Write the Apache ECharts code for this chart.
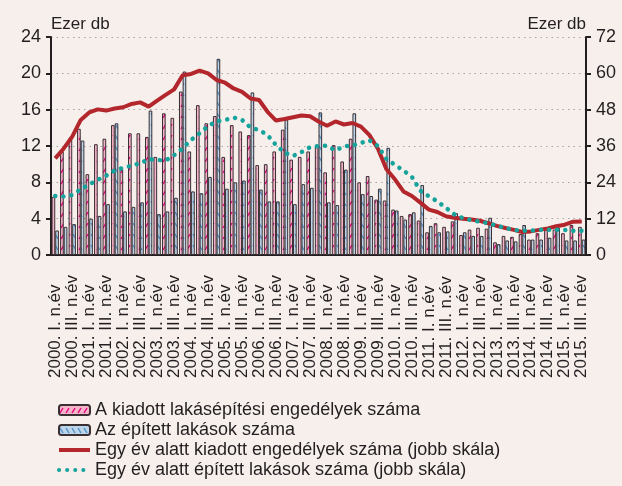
<!DOCTYPE html>
<html style="height: 100%">
    <head>
        <meta charset="utf-8">
    </head>
    <body style="height: 100%; margin: 0; background: #f6efec">
        <div id="container" style="width: 622px; height: 486px"></div>

        <script type="text/javascript" src="https://cdn.jsdelivr.net/npm/echarts@6/dist/echarts.min.js"></script>

        <script type="text/javascript">
var years = ['2000', '2001', '2002', '2003', '2004', '2005', '2006', '2007',
    '2008', '2009', '2010', '2011', '2012', '2013', '2014', '2015'];
var quarters = ['I.', 'II.', 'III.', 'IV.'];

// negyedéves adatok, ezer db (bal skála)
var permits = [6.4, 11.4, 12.9, 13.9, 8.9, 12.2, 12.8, 14.3, 9.4, 13.4, 13.4, 13.0,
    10.8, 15.6, 15.1, 18.0, 11.4, 16.5, 14.5, 15.3, 10.8, 14.3, 13.6, 13.2,
    9.9, 10.0, 11.4, 13.8, 10.5, 10.8, 11.4, 12.0, 9.1, 12.1, 10.3, 12.8,
    8.0, 8.7, 6.1, 6.0, 5.0, 4.3, 4.5, 3.8, 2.5, 3.5, 3.1, 3.7,
    2.2, 2.8, 3.0, 2.9, 1.4, 2.1, 2.0, 2.3, 1.7, 2.4, 2.8, 2.8,
    2.4, 3.3, 3.1];
var built = [2.7, 3.1, 3.4, 12.6, 4.0, 4.3, 5.6, 14.5, 4.8, 5.3, 5.8, 15.9,
    4.5, 4.8, 6.3, 20.2, 7.0, 6.8, 8.6, 21.6, 7.3, 8.0, 8.2, 17.9,
    7.2, 5.9, 5.9, 14.9, 5.6, 7.8, 7.4, 15.7, 5.8, 5.5, 9.4, 15.6,
    6.7, 6.5, 7.3, 11.8, 4.9, 3.9, 4.7, 7.7, 3.2, 2.5, 2.6, 4.6,
    2.5, 2.1, 2.1, 4.1, 1.2, 1.6, 1.5, 3.3, 1.7, 1.7, 1.9, 3.0,
    1.6, 1.6, 1.7];

// egy év alatti összeg, ezer db (jobb skála)
var permitsYear = [31.9, 35.2, 39.1, 44.6, 47.1, 48.1, 47.7, 48.4, 48.8, 49.9, 50.4, 49.0,
    51.0, 52.9, 54.7, 59.4, 59.8, 60.9, 60.0, 57.8, 56.9, 55.0, 53.9, 51.7,
    51.2, 47.3, 44.4, 44.9, 45.5, 46.1, 45.8, 44.1, 42.7, 44.1, 43.1, 43.6,
    42.4, 39.6, 35.1, 28.3, 25.0, 21.0, 19.5, 17.3, 15.0, 14.2, 12.8, 12.3,
    12.0, 11.7, 11.3, 10.5, 9.6, 8.9, 8.3, 7.6, 7.8, 8.3, 8.8, 9.5,
    10.0, 11.0, 11.1];
var builtYear = [19.5, 19.3, 19.8, 21.7, 23.3, 24.8, 26.2, 27.9, 28.8, 29.5, 30.3, 31.6,
    31.4, 31.2, 33.0, 35.2, 38.0, 40.2, 42.6, 44.1, 44.6, 45.4, 44.6, 42.1,
    41.3, 39.6, 36.3, 33.8, 32.7, 34.0, 35.6, 36.0, 36.1, 34.5, 35.9, 36.1,
    37.0, 37.9, 36.0, 31.7, 29.8, 27.9, 25.8, 21.2, 19.4, 17.7, 15.6, 13.4,
    12.2, 11.5, 11.0, 10.5, 9.7, 8.9, 8.3, 8.0, 8.0, 8.3, 8.3, 8.3,
    8.3, 8.0, 8.0];

var categories = [];
years.forEach(function (y) {
    quarters.forEach(function (q) {
        categories.push(y + '. ' + q + ' n.év');
    });
});
categories = categories.slice(0, permits.length);

var names = [
    'A kiadott lakásépítési engedélyek száma',
    'Az épített lakások száma',
    'Egy év alatt kiadott engedélyek száma (jobb skála)',
    'Egy év alatt épített lakások száma (jobb skála)'
];

function hatch(bg, fg, up) {
    var c = document.createElement('canvas');
    c.width = 6;
    c.height = 11;
    var g = c.getContext('2d');
    g.fillStyle = bg;
    g.fillRect(0, 0, c.width, c.height);
    g.strokeStyle = fg;
    g.lineWidth = 1.4;
    g.beginPath();
    if (up) {
        g.moveTo(1, 8);
        g.lineTo(4, 3);
    } else {
        g.moveTo(1, 3);
        g.lineTo(4, 8);
    }
    g.stroke();
    return c;
}

var textColor = '#231f20';
var font = 'Liberation Sans';
var red = '#b3262b';
var teal = '#16a39b';

var dom = document.getElementById('container');
var myChart = echarts.init(dom);

var option = {
    backgroundColor: '#f6efec',
    animation: false,
    textStyle: { fontFamily: font, color: textColor },
    grid: {
        left: 51,
        right: 36,
        top: 37,
        bottom: 231,
        containLabel: false
    },
    legend: {
        orient: 'vertical',
        left: 52,
        top: 396,
        itemWidth: 31,
        itemHeight: 10,
        itemGap: 2,
        textStyle: { fontSize: 18, color: textColor, fontFamily: font },
        data: [
            { name: names[0] },
            { name: names[1] },
            { name: names[2], itemStyle: { opacity: 0 }, lineStyle: { width: 4, color: red } },
            { name: names[3], itemStyle: { opacity: 0 }, lineStyle: { width: 4, color: teal, type: [0.1, 8], cap: 'round' } }
        ]
    },
    xAxis: {
        type: 'category',
        data: categories,
        boundaryGap: true,
        axisLine: { lineStyle: { color: textColor, width: 2 } },
        axisTick: { interval: 1, length: 5, lineStyle: { color: textColor, width: 2 } },
        axisLabel: {
            interval: 1,
            rotate: 90,
            align: 'left',
            verticalAlign: 'middle',
            margin: 123,
            fontSize: 17,
            color: textColor,
            fontFamily: font
        },
        splitLine: { show: false }
    },
    yAxis: [{
        type: 'value',
        position: 'left',
        min: 0,
        max: 24,
        interval: 4,
        name: 'Ezer db',
        nameLocation: 'end',
        nameGap: 4,
        nameTextStyle: { fontSize: 17, color: textColor, align: 'left', fontFamily: font },
        axisLine: { show: true, lineStyle: { color: textColor, width: 2 } },
        axisTick: { show: true, length: 5, lineStyle: { color: textColor, width: 2 } },
        axisLabel: { fontSize: 18, color: textColor, margin: 10, fontFamily: font },
        splitLine: { show: true, lineStyle: { color: '#a8a4a4', type: [1.5, 4], width: 1 } }
    }, {
        type: 'value',
        position: 'right',
        min: 0,
        max: 72,
        interval: 12,
        name: 'Ezer db',
        nameLocation: 'end',
        nameGap: 4,
        nameTextStyle: { fontSize: 17, color: textColor, align: 'right', fontFamily: font },
        axisLine: { show: true, lineStyle: { color: textColor, width: 2 } },
        axisTick: { show: true, length: 5, lineStyle: { color: textColor, width: 2 } },
        axisLabel: { fontSize: 18, color: textColor, margin: 10, fontFamily: font },
        splitLine: { show: false }
    }],
    series: [{
        name: names[0],
        type: 'bar',
        data: permits,
        barGap: '0%',
        barCategoryGap: '14%',
        itemStyle: {
            color: { image: hatch('#f5b4c9', '#e4007c', true), repeat: 'repeat' },
            borderColor: '#3a2f33',
            borderWidth: 1
        }
    }, {
        name: names[1],
        type: 'bar',
        data: built,
        itemStyle: {
            color: { image: hatch('#bcd5ea', '#4e8fc4', false), repeat: 'repeat' },
            borderColor: '#3a2f33',
            borderWidth: 1
        }
    }, {
        name: names[2],
        type: 'line',
        yAxisIndex: 1,
        data: permitsYear,
        symbol: 'none',
        itemStyle: { color: red },
        lineStyle: { color: red, width: 4 },
        z: 5
    }, {
        name: names[3],
        type: 'line',
        yAxisIndex: 1,
        data: builtYear,
        symbol: 'none',
        itemStyle: { color: teal },
        lineStyle: { color: teal, width: 4.5, type: [0.1, 8], cap: 'round' },
        z: 5
    }]
};

if (option && typeof option === 'object') {
    myChart.setOption(option);
}
        </script>
    </body>
</html>
